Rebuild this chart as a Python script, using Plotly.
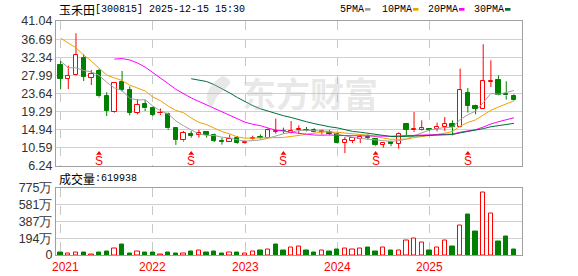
import plotly.graph_objects as go
import pandas as pd

# ---------------- data ----------------
months = [f"{y}-{m:02d}" for y in range(2021, 2026) for m in range(1, 13)]

open_ = [30.42, 27.13, 28.18, 32.10, 27.46, 29.05, 22.97, 19.29, 26.50, 24.58, 19.05, 21.04,
         20.25, 18.85, 18.64, 15.35, 12.39, 13.91, 13.67, 14.31, 13.67, 12.30, 11.99, 13.04,
         11.84, 12.71, 13.20, 13.04, 14.45, 14.75, 14.15, 14.80, 15.00, 14.80, 14.40, 14.45,
         14.00, 11.74, 12.22, 12.71, 13.30, 12.80, 11.36, 11.95, 11.60, 16.41, 14.80, 15.00,
         15.10, 15.20, 15.59, 16.41, 15.59, 23.86, 20.64, 20.00, 26.40, 26.81, 23.60, 22.97]
high = [31.45, 30.35, 38.11, 33.06, 29.29, 29.53, 23.93, 26.30, 29.05, 25.37, 22.32, 22.08,
        20.49, 20.01, 19.05, 15.59, 14.63, 14.63, 14.96, 14.35, 14.00, 12.95, 13.76, 13.43,
        12.39, 13.52, 13.84, 15.28, 17.61, 15.45, 17.03, 16.00, 15.60, 15.30, 15.00, 14.90,
        14.10, 13.20, 13.20, 13.76, 13.84, 12.90, 12.00, 12.30, 14.30, 16.45, 19.20, 17.20,
        15.20, 16.65, 18.00, 17.20, 29.60, 24.96, 20.97, 35.46, 31.62, 28.00, 26.57, 23.45]
low = [24.65, 24.72, 28.00, 26.64, 25.68, 22.66, 18.23, 19.05, 24.10, 18.40, 18.64, 19.43,
       18.23, 18.48, 14.87, 11.30, 12.08, 13.04, 13.04, 13.04, 11.99, 11.36, 11.99, 11.60,
       11.60, 12.56, 12.64, 13.04, 14.00, 14.00, 14.00, 14.00, 14.55, 14.30, 13.80, 13.60,
       11.60, 9.34, 11.74, 11.74, 12.50, 11.00, 10.64, 11.00, 10.40, 13.60, 14.40, 14.80,
       14.60, 14.55, 14.63, 13.60, 15.50, 19.05, 18.64, 19.90, 25.20, 23.20, 22.17, 21.84]
close = [27.13, 27.94, 32.99, 27.70, 28.42, 22.97, 19.53, 26.26, 24.58, 19.05, 20.88, 20.08,
         18.48, 18.95, 15.28, 12.56, 14.15, 13.52, 14.15, 13.67, 12.32, 12.10, 12.71, 11.84,
         12.08, 12.95, 12.88, 14.80, 14.70, 14.55, 14.63, 15.20, 14.85, 14.45, 14.55, 13.84,
         11.74, 12.56, 12.95, 13.20, 13.00, 11.20, 11.84, 11.50, 14.00, 14.96, 15.20, 15.25,
         14.95, 15.60, 16.41, 15.60, 24.41, 20.64, 20.00, 26.57, 26.62, 23.38, 23.20, 22.00]
# volume in 万
volume = [34, 15, 30, 26, 11, 34, 38, 75, 116, 23, 41, 34,
          26, 11, 26, 15, 23, 38, 53, 34, 45, 23, 30, 26,
          15, 41, 56, 64, 116, 56, 86, 101, 56, 34, 56, 45,
          68, 75, 64, 75, 90, 45, 86, 56, 56, 165, 188, 143,
          56, 86, 165, 101, 334, 462, 270, 717, 480, 158, 214, 61.9938]
# monthly closes of 2020 (listing year), only used for the moving averages
close_2020 = [22, 26, 35, 40, 44, 45, 43, 40, 36, 33, 31, 30]

year_labels = ["2021", "2022", "2023", "2024", "2025"]
year_months = ["2021-01", "2022-01", "2023-01", "2024-01", "2025-01"]
price_ticks = [6.24, 10.59, 14.94, 19.29, 23.64, 27.99, 32.34, 36.69, 41.04]
vol_ticks = [0, 193.75, 387.5, 581.25, 775]
vol_tick_text = ["0", "194万", "387万", "581万", "775万"]
ma_periods = [5, 10, 20, 30]
ma_names = ["5PMA", "10PMA", "20PMA", "30PMA"]
ma_colors = ["#a0a0a0", "#f0a000", "#ff00ff", "#006e3a"]
dividend_months = ["2021-06", "2022-06", "2023-06", "2024-06", "2025-06"]
title_name = "玉禾田"
title_rest = "[300815] 2025-12-15 15:30"
vol_label = "成交量"
last_volume = "619938"
watermark = "东方财富"

RED = "#ff0000"
GREEN = "#008000"

# ---------------- geometry helpers (pixel -> paper) ----------------
L, R, T, B = 56, 522, 21, 255
W, H = 578, 276


def pxx(p):
    return (p - L) / (R - L)


def pxy(p):
    return (B - p) / (B - T)


idx = list(range(len(months)))
pos = {m: i for i, m in enumerate(months)}

fig = go.Figure()

# ---------------- candles ----------------
up_x, up_base, up_h = [], [], []
dn_x, dn_base, dn_h = [], [], []
wr_x, wr_y, wg_x, wg_y = [], [], [], []
for i, (o, h, l, c) in enumerate(zip(open_, high, low, close)):
    top, bot = max(o, c), min(o, c)
    if c >= o:
        up_x.append(i); up_base.append(bot); up_h.append(max(top - bot, 0.02))
        wx, wy = wr_x, wr_y
    else:
        dn_x.append(i); dn_base.append(bot); dn_h.append(max(top - bot, 0.02))
        wx, wy = wg_x, wg_y
    wx += [i, i, None, i, i, None]
    wy += [h, top, None, bot, l, None]

fig.add_trace(go.Bar(x=up_x, y=up_h, base=up_base, width=0.56,
                     marker=dict(color="white", line=dict(color=RED, width=1)),
                     xaxis="x", yaxis="y", showlegend=False))
fig.add_trace(go.Bar(x=dn_x, y=dn_h, base=dn_base, width=0.56,
                     marker=dict(color=GREEN, line=dict(color=GREEN, width=1)),
                     xaxis="x", yaxis="y", showlegend=False))

# ---------------- volume ----------------
prev_close = [close_2020[-1]] + close[:-1]
vu_x, vu_y, vd_x, vd_y = [], [], [], []
for i, (v, c, pc) in enumerate(zip(volume, close, prev_close)):
    if c >= pc:
        vu_x.append(i); vu_y.append(v)
    else:
        vd_x.append(i); vd_y.append(v)
fig.add_trace(go.Bar(x=vu_x, y=vu_y, width=0.56,
                     marker=dict(color="white", line=dict(color=RED, width=1)),
                     xaxis="x2", yaxis="y2", showlegend=False))
fig.add_trace(go.Bar(x=vd_x, y=vd_y, width=0.56,
                     marker=dict(color=GREEN, line=dict(color=GREEN, width=1)),
                     xaxis="x2", yaxis="y2", showlegend=False))

# wicks
fig.add_trace(go.Scatter(x=wr_x, y=wr_y, mode="lines", line=dict(color=RED, width=1),
                         xaxis="x", yaxis="y", showlegend=False, hoverinfo="skip"))
fig.add_trace(go.Scatter(x=wg_x, y=wg_y, mode="lines", line=dict(color=GREEN, width=1),
                         xaxis="x", yaxis="y", showlegend=False, hoverinfo="skip"))

# ---------------- moving averages ----------------
all_close = pd.Series(close_2020 + close)
n0 = len(close_2020)
for p, name, col in zip(ma_periods, ma_names, ma_colors):
    ma = all_close.rolling(p).mean().iloc[n0:].tolist()
    fig.add_trace(go.Scatter(x=idx, y=ma, mode="lines", line=dict(color=col, width=1),
                             xaxis="x", yaxis="y", showlegend=False, hoverinfo="skip"))

# dividend markers
div_x = [pos[m] for m in dividend_months]
fig.add_trace(go.Scatter(x=div_x, y=[9.25] * len(div_x), mode="markers",
                         marker=dict(symbol="triangle-up", size=5, color=RED),
                         xaxis="x", yaxis="y", showlegend=False, hoverinfo="skip"))

annotations = []
for x in div_x:
    annotations.append(dict(x=x, y=7.55, xref="x", yref="y", text="S", showarrow=False,
                            yanchor="middle",
                            font=dict(family="Liberation Sans", size=12, color=RED)))

# year labels
for lab, m in zip(year_labels, year_months):
    annotations.append(dict(x=pos[m], y=pxy(267), xref="x2", yref="paper", text=lab,
                            showarrow=False, yanchor="middle", xanchor="center",
                            xshift=(5 if m == year_months[0] else 0),
                            font=dict(family="Liberation Sans", size=12, color=RED)))

# title
annotations.append(dict(x=pxx(57), y=pxy(10), xref="paper", yref="paper", text=title_name,
                        showarrow=False, xanchor="left", yanchor="middle",
                        font=dict(family="Noto Sans CJK SC", size=12, color="#000000")))
annotations.append(dict(x=pxx(93), y=pxy(10), xref="paper", yref="paper", text=title_rest,
                        showarrow=False, xanchor="left", yanchor="middle",
                        font=dict(family="Liberation Mono", size=10, color="#000000")))
# volume caption
annotations.append(dict(x=pxx(57), y=pxy(178), xref="paper", yref="paper", text=vol_label,
                        showarrow=False, xanchor="left", yanchor="middle",
                        font=dict(family="Noto Sans CJK SC", size=12, color="#000000")))
annotations.append(dict(x=pxx(93), y=pxy(178), xref="paper", yref="paper", text=":" + last_volume,
                        showarrow=False, xanchor="left", yanchor="middle",
                        font=dict(family="Liberation Mono", size=10, color="#000000")))

# legend
shapes = []
leg_x = [338, 380, 426, 472]
for lx, name, col in zip(leg_x, ma_names, ma_colors):
    annotations.append(dict(x=pxx(lx), y=pxy(10), xref="paper", yref="paper", text=name,
                            showarrow=False, xanchor="left", yanchor="middle",
                            font=dict(family="Liberation Mono", size=10, color="#000000")))
    sx = lx + len(name) * 6 + 3
    shapes.append(dict(type="rect", xref="paper", yref="paper", x0=pxx(sx), x1=pxx(sx + 5.5),
                       y0=pxy(10.7), y1=pxy(8), fillcolor=col, line=dict(width=0)))

# watermark
annotations.append(dict(x=pxx(310), y=pxy(92), xref="paper", yref="paper", text=watermark,
                        showarrow=False, xanchor="center", yanchor="middle",
                        font=dict(family="Noto Sans CJK SC", size=34, weight="bold",
                                  color="rgba(190,190,190,0.35)")))
# watermark logo (simple swirl)
shapes.append(dict(type="path", xref="paper", yref="paper",
                   path=(f"M {pxx(222)},{pxy(76)} Q {pxx(198)},{pxy(92)} {pxx(212)},{pxy(110)} "
                         f"Q {pxx(214)},{pxy(96)} {pxx(226)},{pxy(88)} "
                         f"Q {pxx(236)},{pxy(80)} {pxx(222)},{pxy(76)} Z"),
                   fillcolor="rgba(190,190,190,0.35)", line=dict(width=0)))

axis_common = dict(showline=True, mirror=True, linecolor="#a0a0a0", linewidth=1,
                   zeroline=False, ticks="")
tick_font = dict(family="Liberation Sans", size=12.5, color="#333333")
xv = [pos[m] for m in year_months]

fig.update_layout(
    width=W, height=H,
    margin=dict(l=L, r=W - R, t=T, b=H - B, pad=0),
    paper_bgcolor="white", plot_bgcolor="white",
    barmode="overlay", bargap=0,
    showlegend=False,
    xaxis=dict(domain=[0, 1], range=[-0.6, 60.05], anchor="y", tickvals=xv,
               showticklabels=False, showgrid=True, gridcolor="#c8c8c8", griddash="dash",
               **axis_common),
    yaxis=dict(domain=[pxy(166), 1], range=[6.24, 41.04], tickvals=price_ticks,
               ticktext=[f"{v:.2f}" for v in price_ticks], tickfont=tick_font,
               showgrid=True, gridcolor="#d0d0d0", **axis_common),
    xaxis2=dict(domain=[0, 1], range=[-0.6, 60.05], anchor="y2", matches="x", tickvals=xv,
                showticklabels=False, showgrid=True, gridcolor="#c8c8c8", griddash="dash",
                **axis_common),
    yaxis2=dict(domain=[0, pxy(187.5)], range=[0, 775], tickvals=vol_ticks,
                ticktext=vol_tick_text, tickfont=tick_font,
                showgrid=True, gridcolor="#d0d0d0", **axis_common),
    annotations=annotations,
    shapes=shapes,
)

fig.write_html("out.html")
